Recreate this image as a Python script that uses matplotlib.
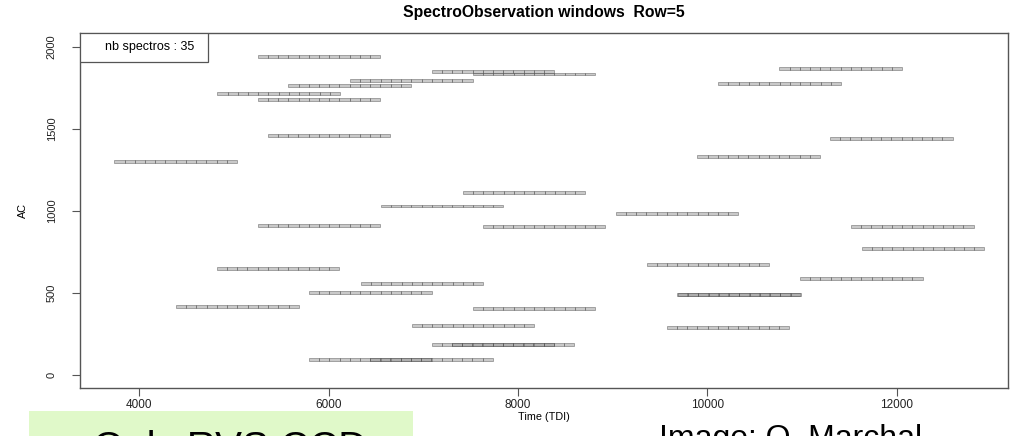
import numpy as np
import matplotlib
matplotlib.use('Agg')
import matplotlib.pyplot as plt
from matplotlib.patches import Rectangle

# Spectro observation windows: start time (TDI) and AC position
win_start = [5250, 7088, 7521, 6225, 5574, 4824, 5250, 5356, 3736, 7416,
             6550, 10760, 10115, 11295, 9894, 9032, 5250, 7627, 4817, 6338,
             5792, 4388, 7521, 6877, 7088, 7299, 5792, 6437, 11517, 11630,
             9359, 10978, 9682, 9690, 9570]
win_ac = [1939, 1852, 1834, 1797, 1763, 1716, 1680, 1458, 1300, 1111,
          1030, 1868, 1777, 1440, 1330, 983, 910, 904, 650, 555,
          504, 417, 403, 303, 189, 189, 92, 92, 904, 772,
          675, 591, 492, 492, 289]
n_cells = 12      # samples per window
cell_tdi = 108    # TDI per sample
nb_spectros = len(win_start)

x_ticks = [4000, 6000, 8000, 10000, 12000]
y_ticks = [0, 500, 1000, 1500, 2000]

plt.rcParams['font.family'] = ['Liberation Sans', 'DejaVu Sans']

fig = plt.figure(figsize=(10.17, 4.36), dpi=100)
ax = fig.add_axes([0.0787, 0.1108, 0.9128, 0.8128])

# Draw each window as a row of cells
for s, ac in zip(win_start, win_ac):
    lefts = s + cell_tdi * np.arange(n_cells)
    ax.barh([ac] * n_cells, cell_tdi, left=lefts, height=18,
            color=(0.58, 0.58, 0.58, 0.5), edgecolor=(0.28, 0.28, 0.28, 0.6),
            linewidth=0.5)

ax.set_xlim(3374, 13179)
ax.set_ylim(-77, 2082)
ax.set_xticks(x_ticks)
ax.set_yticks(y_ticks)
ax.set_yticklabels([str(t) for t in y_ticks], rotation=90, va='center')

for sp in ax.spines.values():
    sp.set_color('#555555')
    sp.set_linewidth(1.0)
ax.tick_params(direction='out', length=5.8, width=0.8, color='#555555',
               labelcolor='#222222')
ax.tick_params(axis='x', pad=2.5, labelsize=8.5)
ax.tick_params(axis='y', pad=11, labelsize=8)

ax.set_title('SpectroObservation windows  Row=5', fontsize=11.3,
             fontweight='bold', pad=11.5)
ax.set_xlabel('Time (TDI)', fontsize=7.8, va='center')
ax.xaxis.set_label_coords(0.5, -0.0827)
ax.set_ylabel('AC', fontsize=7.8, va='center')
ax.yaxis.set_label_coords(-0.0617, 0.5)

# Legend box in the top-left corner
ax.add_patch(Rectangle((0, 1 - 0.0818), 0.1376, 0.0818, transform=ax.transAxes,
                       facecolor='white', edgecolor='#555555', linewidth=0.9,
                       zorder=5))
ax.text(0.027, 0.962, f'nb spectros : {nb_spectros}', transform=ax.transAxes,
        fontsize=9, ha='left', va='center', zorder=6)

# Slide annotations below the plot (cut off at the bottom edge, as in the slide)
fig.add_artist(Rectangle((29.3 / 1017, 0), (413.3 - 29.3) / 1017, 25 / 436,
                         transform=fig.transFigure, facecolor='#e0f9c9',
                         edgecolor='none'))
fig.text(93 / 1017, 1 - 460 / 436, 'Only RVS CCD', fontsize=29,
         ha='left', va='baseline')
fig.text(659 / 1017, 1 - 447 / 436, 'Image: O. Marchal', fontsize=23,
         ha='left', va='baseline')

fig.savefig('out.png', dpi=100)
